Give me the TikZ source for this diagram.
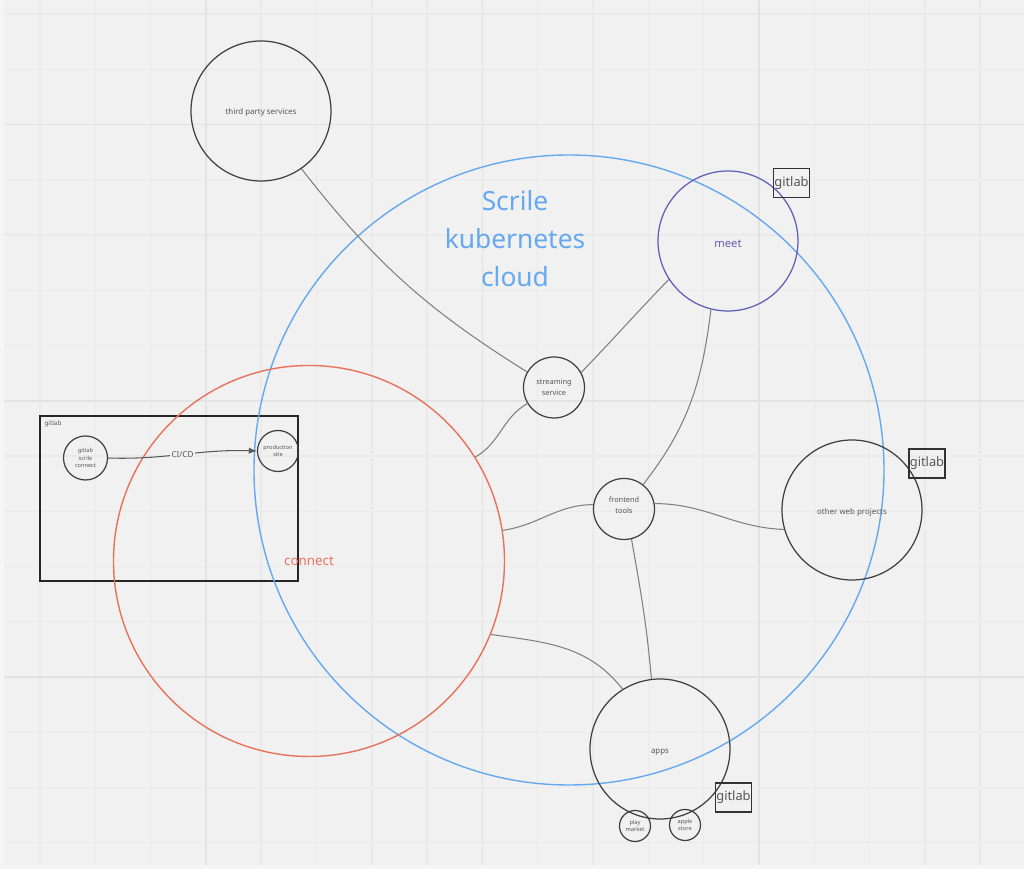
\documentclass[tikz,border=0pt]{standalone}
\usepackage{fontspec}
\setmainfont{Noto Sans}
\definecolor{boardbg}{HTML}{F1F1F1}
\definecolor{gridline}{HTML}{EAEAEA}
\definecolor{gridstrong}{HTML}{E3E3E3}
\definecolor{cloudblue}{HTML}{66A9EE}
\definecolor{connectred}{HTML}{E8735C}
\definecolor{meetblue}{HTML}{5F5FB5}
\definecolor{inktext}{HTML}{555555}
\tikzset{
    bubble/.style={draw=black!75,circle,inner sep=0,line width=0.7pt,align=center,text=inktext,minimum size=2.8cm,font=\fontsize{4.5}{6}\selectfont},
    smallbubble/.style={bubble,minimum size=#1,font=\fontsize{3.2}{4.4}\selectfont},
    streambubble/.style={bubble,minimum size=1.22cm,font=\fontsize{4.2}{6.5}\selectfont},
    tagbox/.style={draw=black!80,line width=0.6pt,inner sep=0,minimum width=0.72cm,minimum height=0.58cm,text=inktext,font=\fontsize{7.3}{9}\selectfont},
    link/.style={draw=black!50,line width=0.6pt},
    lowtext/.style={text height=#1}
}
\begin{document}
\begin{tikzpicture}
    \useasboundingbox (0,0) rectangle (20.48,17.38);

    % Board
    \fill [white!96!black] (0,0) rectangle (20.48,17.38);
    \fill [boardbg] (0.08,0.08) rectangle (20.48,17.38);
    \foreach \i in {0,...,17} {
        \draw [gridline,line width=0.8pt] ({0.8+1.106*\i},0.08) -- ({0.8+1.106*\i},17.38);
    }
    \foreach \j in {0,...,15} {
        \draw [gridline,line width=0.8pt] (0.08,{17.1-1.105*\j}) -- (20.48,{17.1-1.105*\j});
    }
    \foreach \i in {3,8,13} {
        \draw [gridstrong,line width=1pt] ({0.8+1.106*\i},0.08) -- ({0.8+1.106*\i},17.38);
    }
    \foreach \j in {2,7,12} {
        \draw [gridstrong,line width=1pt] (0.08,{17.1-1.105*\j}) -- (20.48,{17.1-1.105*\j});
    }

    % Gitlab frame
    \node (frame) [draw=black!85,line width=0.7pt,minimum width=5.16cm,minimum height=3.3cm,inner sep=0] at (3.38,7.41) {};
    \node (framelabel) [text=inktext,inner sep=0,font=\fontsize{3.6}{5}\selectfont] at (1.06,8.91) {gitlab};

    % Large circles
    \node (cloud) [draw=cloudblue,circle,line width=0.8pt,inner sep=0,minimum size=12.6cm] at (11.38,7.98) {};
    \node (connect) [draw=connectred,circle,line width=0.8pt,inner sep=0,minimum size=7.82cm,text=connectred,font=\fontsize{7.6}{9}\selectfont] at (6.18,6.16) {connect};
    \node (cloudlabel) [text=cloudblue,align=center,inner sep=0,font=\fontsize{15}{21.6}\selectfont] at (10.3,12.6) {Scrile\\kubernetes\\cloud};

    % Services
    \node (third) [bubble,lowtext=1.9mm] at (5.22,15.16) {third party services};
    \node (meet) [bubble,lowtext=2.6mm,draw=meetblue,text=meetblue,font=\fontsize{6.4}{8}\selectfont] at (14.56,12.56) {meet};
    \node (stream) [streambubble] at (11.08,9.63) {streaming\\service};
    \node (frontend) [streambubble,text depth=1.6mm] at (12.48,7.2) {frontend\\tools};
    \node (other) [bubble,lowtext=2.1mm] at (17.04,7.18) {other web projects};
    \node (apps) [bubble,lowtext=2.1mm] at (13.2,2.4) {apps};
    \node (play) [smallbubble=0.62cm] at (12.7,0.86) {play\\market};
    \node (apple) [smallbubble=0.62cm] at (13.7,0.88) {apple\\store};
    \node (scrile) [smallbubble=0.88cm] at (1.71,8.22) {gitlab\\scrile\\connect};
    \node (production) [smallbubble=0.82cm] at (5.56,8.36) {production\\site};

    % Gitlab tags
    \node (tagmeet) [tagbox] at (15.83,13.72) {gitlab};
    \node (tagother) [tagbox] at (18.54,8.11) {gitlab};
    \node (tagapps) [tagbox] at (14.67,1.43) {gitlab};

    % Links
    \draw [link] (third.-55) to [out=-52,in=148] (stream.150);
    \draw [link] (connect.32) to [out=30,in=210] (stream.211);
    \draw [link] (stream.29) to [out=46,in=226] (meet.213);
    \draw [link] (meet.256) to [out=-97,in=52] (frontend.52);
    \draw [link] (connect.9) to [out=8,in=180] (frontend.172);
    \draw [link] (frontend.10) to [out=0,in=178] (other.196);
    \draw [link] (frontend.-76) to [out=-80,in=95] (apps.97);
    \draw [link] (connect.-22) to [out=-8,in=128] (apps.122);

    % CI/CD
    \draw [-latex,draw=black!65,line width=0.6pt] (scrile.0)
        to [out=-2,in=178] node (cicd) [fill=boardbg,inner sep=1pt,text=inktext,font=\fontsize{4.6}{6}\selectfont] {CI/CD} (production.180);
\end{tikzpicture}
\end{document}
